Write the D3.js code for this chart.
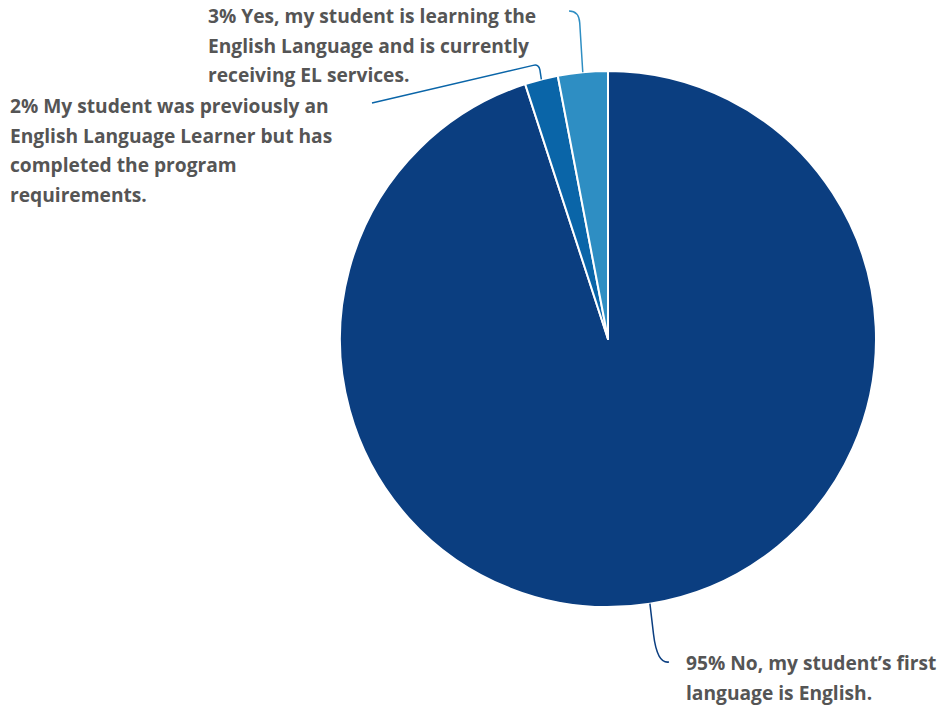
<!DOCTYPE html>
<html><head><meta charset="utf-8">
<script src="https://cdn.jsdelivr.net/npm/d3@7"></script>
<style>
html,body{margin:0;padding:0;background:#fff;}
text{font-family:"Open Sans","Lato",sans-serif;font-weight:700;fill:#555555;}
</style></head>
<body><svg id="chart" width="943" height="709"></svg>
<script>
const categories = [
  "No, my student’s first language is English.",
  "My student was previously an English Language Learner but has completed the program requirements.",
  "Yes, my student is learning the English Language and is currently receiving EL services."
];
const values = [95, 2, 3];
const labelLines = [
  ["95% No, my student’s first", "language is English."],
  ["2% My student was previously an", "English Language Learner but has", "completed the program", "requirements."],
  ["3% Yes, my student is learning the", "English Language and is currently", "receiving EL services."]
];
const colors = ["#0b3e80", "#0a65a8", "#2e8ec3"];

const W = 943, H = 709;
const cx = 608, cy = 339, R = 268;
const svg = d3.select("#chart");
const g = svg.append("g").attr("transform", `translate(${cx},${cy})`);

const pie = d3.pie().sort(null).value(d => d)(values);
const arc = d3.arc().innerRadius(0).outerRadius(R);

g.selectAll("path.slice").data(pie).enter().append("path")
  .attr("class", "slice")
  .attr("d", arc)
  .attr("fill", (d, i) => colors[i])
  .attr("stroke", "#fff")
  .attr("stroke-width", 2)
  .attr("stroke-linejoin", "round");

// label layout (relative to pie centre)
const lineH = 29.5;
const labelLayout = [
  {x: 78, y: 331, corner: [49, 325], end: [61, 323], rad: 30},
  {x: -598, y: -226, corner: [-69, -275], end: [-236, -236], rad: 6},
  {x: -400, y: -316, corner: [-29, -328], end: [-39, -328], rad: 12}
];

function edgePoint(d, rr) {
  const a = (d.startAngle + d.endAngle) / 2;
  return [rr * Math.sin(a), -rr * Math.cos(a)];
}

pie.forEach((d, i) => {
  const L = labelLayout[i];
  const p0 = edgePoint(d, R);
  const c = L.corner, e = L.end;
  const d1 = Math.hypot(p0[0] - c[0], p0[1] - c[1]);
  const d2 = Math.hypot(e[0] - c[0], e[1] - c[1]);
  const r1 = Math.min(L.rad, d1), r2 = Math.min(L.rad, d2);
  const a = [c[0] + (p0[0] - c[0]) * r1 / d1, c[1] + (p0[1] - c[1]) * r1 / d1];
  const b = [c[0] + (e[0] - c[0]) * r2 / d2, c[1] + (e[1] - c[1]) * r2 / d2];
  const p = d3.path();
  p.moveTo(p0[0], p0[1]);
  p.lineTo(a[0], a[1]);
  p.quadraticCurveTo(c[0], c[1], b[0], b[1]);
  p.lineTo(e[0], e[1]);
  g.append("path").attr("d", p.toString())
    .attr("fill", "none").attr("stroke", colors[i]).attr("stroke-width", 1.5);

  const t = g.append("text").attr("x", L.x).attr("y", L.y).style("font-size", "19.2px");
  labelLines[i].forEach((ln, j) => {
    t.append("tspan").attr("x", L.x).attr("y", L.y + j * lineH).text(ln);
  });
});
</script></body></html>
